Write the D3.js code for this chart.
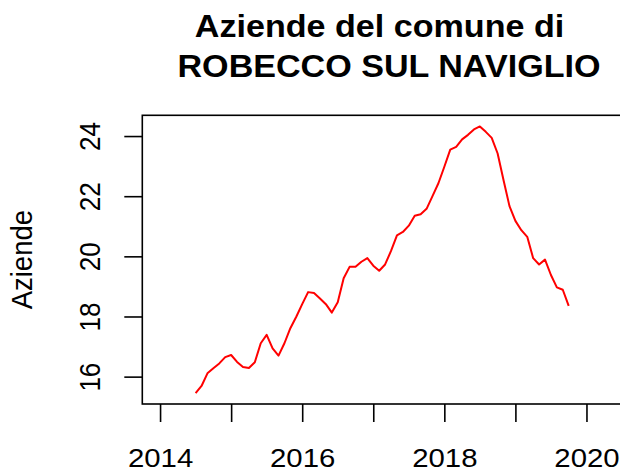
<!DOCTYPE html>
<html>
<head>
<meta charset="utf-8">
<script src="https://cdn.jsdelivr.net/npm/d3@7"></script>
<style>
  body { margin: 0; background: #fff; }
  svg text { font-family: "Liberation Sans", Arial, sans-serif; fill: #000; }
</style>
</head>
<body>
<svg id="chart"></svg>
<script>
// monthly counts, Jul 2014 .. Oct 2019
const startYear = 2014.5;
const values = [
  15.45, 15.69, 16.11, 16.28, 16.44, 16.65, 16.72, 16.49, 16.32, 16.29, 16.48, 17.11,
  17.39, 16.94, 16.70, 17.11, 17.61, 17.99, 18.41, 18.81, 18.78, 18.60, 18.41, 18.13,
  18.47, 19.27, 19.65, 19.65, 19.82, 19.94, 19.69, 19.52, 19.73, 20.18, 20.70, 20.81,
  21.02, 21.35, 21.40, 21.58, 22.00, 22.43, 22.98, 23.55, 23.64, 23.89, 24.04, 24.22,
  24.32, 24.14, 23.94, 23.42, 22.53, 21.67, 21.18, 20.87, 20.65, 19.94, 19.73, 19.89,
  19.38, 18.97, 18.89, 18.35
];
const xTicks = [2014, 2015, 2016, 2017, 2018, 2019, 2020];
const xLabels = [2014, 2016, 2018, 2020];
const yTicks = [16, 18, 20, 22, 24];
const titleLines = ["Aziende del comune di", "ROBECCO SUL NAVIGLIO"];
const yTitle = "Aziende";

const data = values.map((v, i) => ({ t: startYear + i / 12, v: v }));

const config = {
  width: 620,
  height: 471,
  left: 142.3, right: 622, top: 115.3, bottom: 404,
  stretch: 1.1 // text in the original is a bit wider than tall
};

const svg = d3.select("#chart")
  .attr("width", config.width)
  .attr("height", config.height);

const xScale = d3.scaleLinear()
  .domain([2013.75, 2020.5])
  .range([config.left, config.right]);

const yScale = d3.scaleLinear()
  .domain([15.09, 24.69])
  .range([config.bottom, config.top]);

// box
svg.append("rect")
  .attr("x", config.left)
  .attr("y", config.top)
  .attr("width", config.right - config.left)
  .attr("height", config.bottom - config.top)
  .attr("fill", "none")
  .attr("stroke", "#000")
  .attr("stroke-width", 1.6);

// x axis
const xAxis = d3.axisBottom(xScale)
  .tickValues(xTicks)
  .tickSize(18)
  .tickFormat(d => xLabels.includes(d) ? d : "");

const xg = svg.append("g")
  .attr("transform", `translate(0,${config.bottom})`)
  .call(xAxis);
xg.select(".domain").remove();
xg.selectAll(".tick line").attr("stroke", "#000").attr("stroke-width", 1.6);
xg.selectAll(".tick text")
  .attr("y", null)
  .attr("dy", null)
  .attr("transform", "translate(0,62.5) scale(1.13,1)")
  .style("font-size", "26px")
  .attr("font-family", null);

// y axis
const yAxis = d3.axisLeft(yScale)
  .tickValues(yTicks)
  .tickSize(18)
  .tickFormat(d3.format("d"));

const yg = svg.append("g")
  .attr("transform", `translate(${config.left},0)`)
  .call(yAxis);
yg.select(".domain").remove();
yg.selectAll(".tick line").attr("stroke", "#000").attr("stroke-width", 1.6);
yg.selectAll(".tick text")
  .attr("x", null)
  .attr("dy", null)
  .attr("transform", `translate(-42,0) scale(${config.stretch},1) rotate(-90)`)
  .attr("text-anchor", "middle")
  .style("font-size", "26px")
  .attr("font-family", null);

// y title
svg.append("text")
  .attr("transform", `translate(32,${(config.top + config.bottom) / 2}) scale(${config.stretch},1) rotate(-90)`)
  .attr("text-anchor", "middle")
  .style("font-size", "27.5px")
  .text(yTitle);

// title
svg.selectAll(".title")
  .data(titleLines)
  .join("text")
  .attr("class", "title")
  .attr("transform", (d, i) =>
    `translate(${i === 0 ? 379.5 : 389},${37 + i * 39.5}) scale(${config.stretch},1)`)
  .attr("text-anchor", "middle")
  .style("font-size", "31px")
  .style("font-weight", "bold")
  .text(d => d);

// series
const line = d3.line()
  .x(d => xScale(d.t))
  .y(d => yScale(d.v));

svg.append("path")
  .datum(data)
  .attr("fill", "none")
  .attr("stroke", "#ff0000")
  .attr("stroke-width", 2)
  .attr("stroke-linejoin", "round")
  .attr("d", line);
</script>
</body>
</html>
